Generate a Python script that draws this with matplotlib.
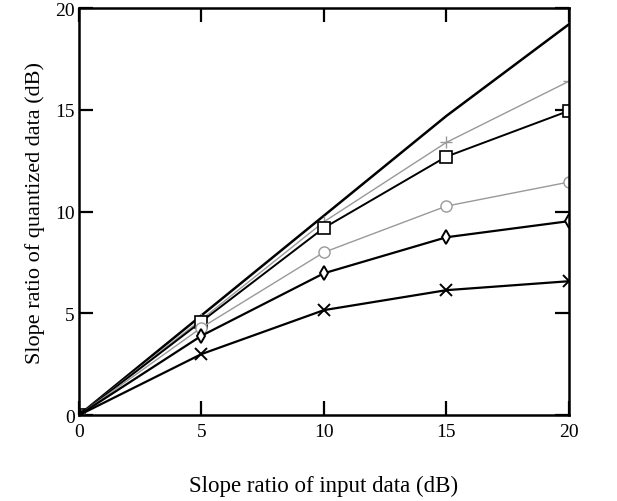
import matplotlib
matplotlib.use("Agg")
import matplotlib.pyplot as plt

plt.rcParams['font.family'] = ['Liberation Serif', 'DejaVu Serif']

x = [0, 5, 10, 15, 20]
ideal = [0, 4.9, 9.8, 14.7, 19.2]
plus_series = [0, 4.7, 9.5, 13.4, 16.4]
square_series = [0, 4.6, 9.2, 12.7, 14.95]
circle_series = [0, 4.3, 8.0, 10.27, 11.45]
diamond_series = [0, 3.9, 6.97, 8.74, 9.53]
cross_series = [0, 3.0, 5.16, 6.14, 6.58]

fig = plt.figure(figsize=(6.17, 5.02), dpi=100)
ax = fig.add_axes([0.128, 0.171, 0.794, 0.811])

ax.plot(x, ideal, color="black", lw=1.8)
ax.plot(x, plus_series, color="#999999", lw=1.0, marker="+", ms=9, mew=1.0)
ax.plot(x, square_series, color="black", lw=1.4, marker="s", ms=8, mfc="white", mew=1.2)
ax.plot(x, circle_series, color="#999999", lw=1.0, marker="o", ms=8, mfc="white", mew=1.0)
ax.plot(x, diamond_series, color="black", lw=1.6, marker="d", ms=7, mfc="white", mew=1.4)
ax.plot(x, cross_series, color="black", lw=1.6, marker="x", ms=9, mew=1.4)

ax.set_xlim(0, 20)
ax.set_ylim(0, 20)
ax.set_xticks([0, 5, 10, 15, 20])
ax.set_yticks([0, 5, 10, 15, 20])
ax.tick_params(direction="in", length=10, width=1.6, top=True, right=True, labelsize=14)
ax.tick_params(axis="x", pad=6)
ax.tick_params(axis="y", pad=3)
for s in ax.spines.values():
    s.set_linewidth(1.8)

ax.set_xlabel("Slope ratio of input data (dB)", fontsize=16.5, labelpad=25)
ax.set_ylabel("Slope ratio of quantized data (dB)", fontsize=16, labelpad=7)

fig.savefig("out.png", dpi=100)
